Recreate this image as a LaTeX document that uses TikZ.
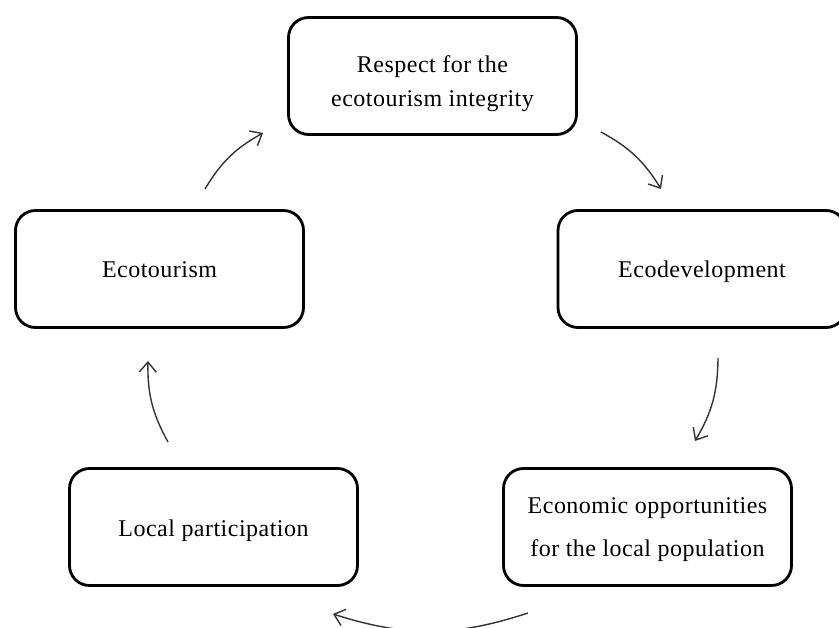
\documentclass[tikz,border=0pt]{standalone}
\usepackage{fontspec}
\setmainfont{Liberation Serif}[LetterSpace=2.0]
\usetikzlibrary{arrows.meta}
\newcommand\bxt[3]{\raisebox{#1}[\height][\depth]{\fontsize{24}{#2}\selectfont\begin{tabular}{@{}c@{}}#3\end{tabular}}}
\tikzset{
  box/.style={draw=black, line width=2.8pt, rounded corners=20pt, fill=white,
    minimum width=288pt, minimum height=117pt, inner sep=0pt},
  flow/.style={draw=black!80, line width=1.4pt,
    -{Straight Barb[length=10pt,width=17pt,line width=1.4pt]}, bend left=15}
}
\begin{document}
\begin{tikzpicture}[x=1pt,y=-1pt]
\useasboundingbox (0,0) rectangle (839,628);
\clip (0,0) rectangle (839,628);
\node[box] (top) at (432.5,76) {\bxt{-7pt}{34}{Respect for the\\ecotourism integrity}};
\node[box] (left) at (159.5,269) {\bxt{-2pt}{34}{Ecotourism}};
\node[box] (right) at (702,269) {\bxt{-2pt}{34}{Ecodevelopment}};
\node[box] (bl) at (213.5,527) {\bxt{-3pt}{34}{Local participation}};
\node[box] (br) at (647.5,527) {\bxt{1pt}{43}{Economic opportunities\\for the local population}};
\coordinate (a1s) at (205,189);
\coordinate (a1e) at (263,133);
\coordinate (a2s) at (601,132);
\coordinate (a2e) at (661,189);
\coordinate (a3s) at (718,358);
\coordinate (a3e) at (695,441);
\coordinate (a4s) at (528,613);
\coordinate (a4e) at (333,614);
\coordinate (a5s) at (168,442);
\coordinate (a5e) at (148,361);
\draw[flow] (a1s) to (a1e);
\draw[flow] (a2s) to (a2e);
\draw[flow] (a3s) to (a3e);
\draw[flow, bend left=18] (a4s) to (a4e);
\draw[flow] (a5s) to (a5e);
\end{tikzpicture}
\end{document}
